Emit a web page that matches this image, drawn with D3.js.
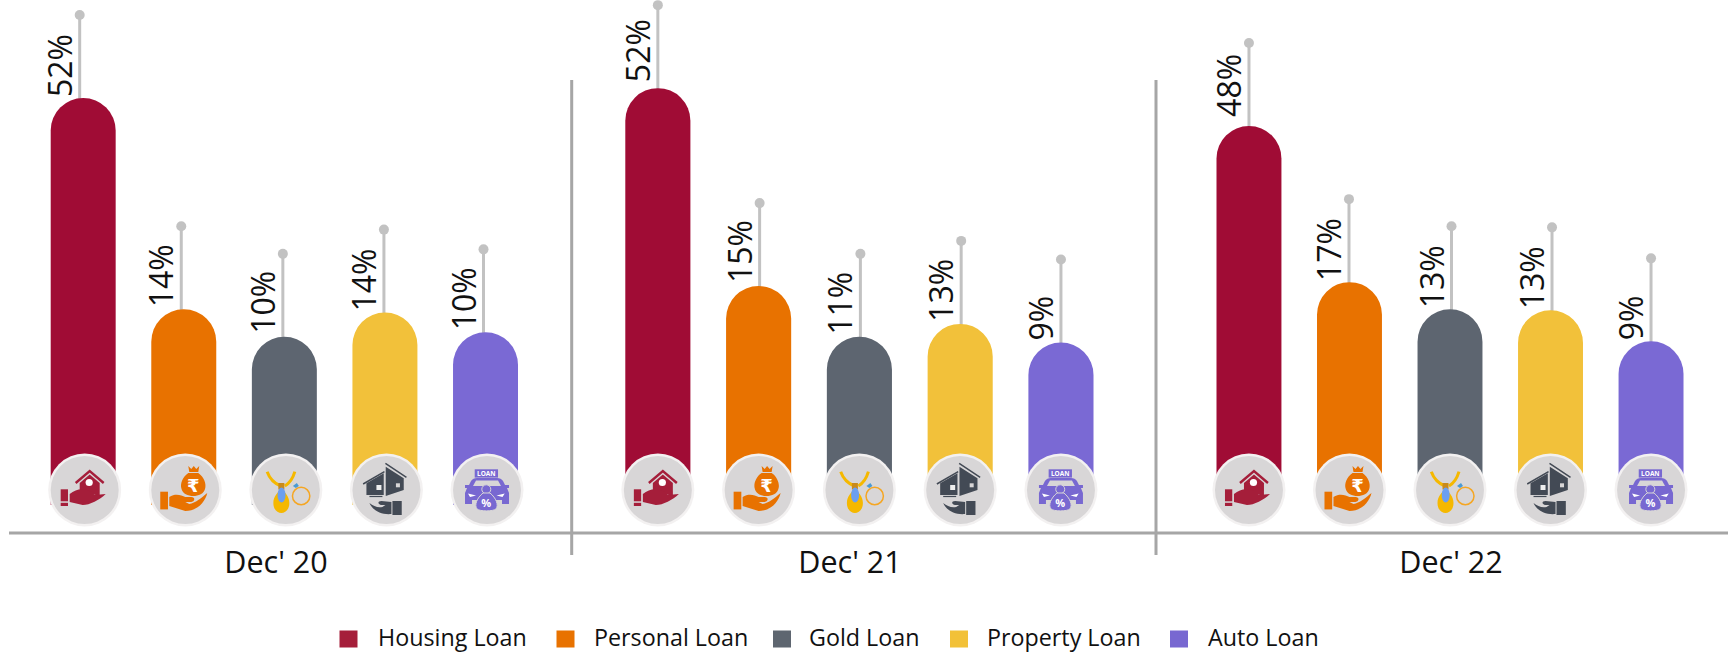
<!DOCTYPE html>
<html>
<head>
<meta charset="utf-8">
<script src="https://cdn.jsdelivr.net/npm/d3@7"></script>
<style>
html, body { margin: 0; padding: 0; background: #fff; }
svg { display: block; }
text { font-family: "Open Sans", sans-serif; fill: #111; }
</style>
</head>
<body>
<svg id="chart" width="1728" height="654"></svg>
<script>
"use strict";

const periods = ["Dec' 20", "Dec' 21", "Dec' 22"];
const categories = ["Housing Loan", "Personal Loan", "Gold Loan", "Property Loan", "Auto Loan"];
const colors = ["#a00c35", "#e87200", "#5d6570", "#f2c13a", "#7a69d4"];
const legendColors = ["#a51e3a", "#e87200", "#5e6670", "#f2c138", "#7868d1"];

// printed labels
const printed = [
    ["52%", "14%", "10%", "14%", "10%"],
    ["52%", "15%", "11%", "13%", "9%"],
    ["48%", "17%", "13%", "13%", "9%"]
];

// drawn bar heights, these do not follow the printed labels exactly in the source
const drawn = [
    [51.95, 14.5, 9.6, 13.9, 10.4],
    [53.7, 18.6, 9.6, 11.9, 8.6],
    [47.0, 19.3, 14.5, 14.3, 8.8]
];

const width = 1728, axisY = 533, barBottom = 505, stemLength = 83;
const groupLeft = [50.7, 625.3, 1216.5];
const groupRight = [518, 1093.5, 1683.5];
const stemShift = [
    [-3.5, -2.5, -1.5, -1, -2],
    [0, 1, 1, 1, 0],
    [0, -0.5, 1.5, 1.5, 0]
];
// gap between a bar top and the start of its label, set by hand in the source
const labelLift = [
    [1, 2, 3, 1, 2],
    [6, 3, 2, 2, 2],
    [9, 1, 1, 1, 1]
];
const circleShift = [1.5, 0, 0];
const dividers = [571.7, 1156];
const periodCenter = [276, 850, 1451];
const legendSwatch = [339.5, 556.5, 773, 950, 1170];
const legendText = [378, 594, 809, 987, 1208];

const svg = d3.select("#chart");

const y = d3.scaleLinear().domain([0, 60]).range([391, 52.6]);

// icons are drawn around 0,0, the middle of the grey badge
const icons = [
    `<path d="M-9,-7 L5,-19 L19,-7" fill="none" stroke="#a51e3a" stroke-width="2.4"/>
     <path d="M-5,-7 L5,-15.5 L15,-7 L15,6 L-5,1 Z" fill="#a51e3a"/>
     <circle cx="4.5" cy="-7.5" r="3.6" fill="#fff"/>
     <rect x="-24" y="-0.7" width="7.3" height="12" fill="#a51e3a"/>
     <rect x="-24" y="12.8" width="7.3" height="3.2" fill="#a51e3a"/>
     <path d="M-15,4 C-8,-2 0,-2 7,2 L10,5 L21,4 C15,10 5,15 -2,15 L-15,12 Z" fill="#a51e3a"/>`,
    `<path d="M3,-24 L6,-21 L8.5,-24 L11,-21 L14,-24 L13,-18 L4,-18 Z" fill="#e87200"/>
     <path d="M3,-17 C-3,-13 -5,-6 -4,-2 C-3,4 3,6 8,6 C13,6 19,4 20,-2 C21,-6 19,-13 13,-17 Z" fill="#e87200"/>
     <text x="8" y="1.5" text-anchor="middle" font-size="18" font-weight="700" style="font-family:'DejaVu Sans';fill:#fff">₹</text>
     <rect x="-25" y="1.7" width="7.7" height="17.7" fill="#e87200"/>
     <path d="M-16,7 C-10,3 -4,5 0,7 L6,7 C10,7 10,11 6,12 L0,12 L4,14 C10,13 16,8 22,3 C20,12 12,21 0,21 L-16,16 Z" fill="#e87200"/>`,
    `<path d="M-18.7,-18.3 Q-15,-8 -5,-4 M9,-18.3 Q6,-8 -1,-4" fill="none" stroke="#f5b800" stroke-width="3"/>
     <path d="M-4.5,-2 C-1,3 3.5,6 3.5,13 C3.5,20 -1,23 -4.5,23 C-8,23 -12.5,20 -12.5,13 C-12.5,6 -8,3 -4.5,-2 Z" fill="#f5b800"/>
     <rect x="-7.5" y="-7" width="6" height="6.5" fill="#c98a1a"/>
     <ellipse cx="-4.3" cy="5" rx="4" ry="7.5" fill="#6b9ff0"/>
     <circle cx="15.3" cy="6" r="8.7" fill="none" stroke="#f5a623" stroke-width="1.5"/>
     <path d="M7,-4 L11,-7 L13,-4 L10,-2 Z" fill="#4a9ad4"/>`,
    `<path d="M-23.3,-6 L-2,-18.3 M-1,-26.7 L20,-12.7" fill="none" stroke="#434a55" stroke-width="1.5"/>
     <path d="M-20,-6.7 L-2.7,-16.7 L-2.7,5 L-20,5 Z M-0.7,-23.3 L17.3,-11.7 L17.3,0 L-0.7,6 Z" fill="#434a55"/>
     <rect x="-10" y="-5" width="5" height="5" fill="#eee"/>
     <rect x="9.5" y="-6.7" width="4" height="4" fill="#d8d6d7"/>
     <path d="M-17,6.5 L-4,6.5" stroke="#434a55" stroke-width="1.2"/>
     <path d="M-17,13 C-14,20 -6,25 5,24 L5,12 L-5,11 C-9,11 -9,14 -5,15 L-1,15 L-4,17 C-9,18 -13,16 -17,13 Z" fill="#434a55"/>
     <rect x="6" y="11" width="9.3" height="14" fill="#434a55"/>`,
    `<rect x="-12.3" y="-20.7" width="23.3" height="8.3" fill="#7868d1"/>
     <text x="-0.7" y="-14.3" text-anchor="middle" font-size="6.5" font-weight="700" style="fill:#fff">LOAN</text>
     <path d="M-16,-9 Q-14,-12 -10,-12 L10,-12 Q14,-12 16,-9 L18,-5 L22,-5 L22,-2 L20,-2 L22,3 L22,14 L15,14 L15,10 L-15,10 L-15,14 L-22,14 L-22,3 L-20,-2 L-22,-2 L-22,-5 L-18,-5 Z" fill="#7868d1"/>
     <path d="M-11,-9.5 L11,-9.5 L14,-4 L-14,-4 Z" fill="#d8d6d7"/>
     <path d="M-19,3.5 L-11,5.5 L-17,7 Z M17.7,3.5 L9.5,5.5 L15.5,7 Z" fill="#fff"/>
     <circle cx="-0.7" cy="-0.7" r="4.5" fill="#7868d1" stroke="#d8d6d7" stroke-width="1"/>
     <path d="M-4,3 L3,3 C9,8 12,15 9,19 C6,21.5 -7,21.5 -10,19 C-13,15 -10,8 -4,3 Z" fill="#7868d1" stroke="#d8d6d7" stroke-width="1"/>
     <text x="-0.7" y="17" text-anchor="middle" font-size="11" font-weight="700" style="fill:#fff">%</text>`
];

const defs = svg.append("defs");
icons.forEach((markup, i) => {
    defs.append("g").attr("id", "icon" + i).html(markup);
});

/**
 * Column with a round top and a flat bottom.
 */
function barPath(x0, x1, top, bottom) {
    const r = (x1 - x0) / 2;
    const p = d3.path();
    p.moveTo(x0, bottom);
    p.lineTo(x0, top + r);
    p.arc(x0 + r, top + r, r, Math.PI, 0);
    p.lineTo(x1, bottom);
    p.closePath();
    return p.toString();
}

periods.forEach((period, g) => {
    const x = d3.scaleBand()
        .domain(categories)
        .range([groupLeft[g], groupRight[g]])
        .paddingInner(0.354)
        .paddingOuter(0);

    const stemX = (c, i) => x(c) + x.bandwidth() / 2 + stemShift[g][i];

    const group = svg.append("g").attr("class", "period");

    const cols = group.selectAll("g.col")
        .data(categories)
        .enter().append("g")
            .attr("class", "col");

    cols.append("line")
        .attr("x1", stemX)
        .attr("x2", stemX)
        .attr("y1", (c, i) => y(drawn[g][i]) + 2)
        .attr("y2", (c, i) => y(drawn[g][i]) - stemLength)
        .attr("stroke", "#c2c2c2")
        .attr("stroke-width", 3);

    cols.append("circle")
        .attr("cx", stemX)
        .attr("cy", (c, i) => y(drawn[g][i]) - stemLength)
        .attr("r", 5)
        .attr("fill", "#c2c2c2");

    cols.append("path")
        .attr("d", (c, i) => barPath(x(c), x(c) + x.bandwidth(), y(drawn[g][i]), barBottom))
        .attr("fill", (c, i) => colors[i]);

    cols.append("text")
        .attr("transform", (c, i) => `translate(${stemX(c, i) - 8},${y(drawn[g][i]) - labelLift[g][i]}) rotate(-90)`)
        .attr("font-size", 32)
        .text((c, i) => printed[g][i]);

    const badge = cols.append("g")
        .attr("transform", c => `translate(${x(c) + x.bandwidth() / 2 + circleShift[g]},490)`);
    badge.append("circle").attr("r", 36.5).attr("fill", "#f3f1f1");
    badge.append("circle").attr("r", 34).attr("fill", "#d8d6d7");
    badge.append("use").attr("href", (c, i) => "#icon" + i);

    group.append("text")
        .attr("x", periodCenter[g])
        .attr("y", 573)
        .attr("text-anchor", "middle")
        .attr("font-size", 30.5)
        .text(period);
});

svg.append("line")
    .attr("x1", 9).attr("x2", width)
    .attr("y1", axisY).attr("y2", axisY)
    .attr("stroke", "#a6a6a6").attr("stroke-width", 3);

svg.selectAll("line.divider")
    .data(dividers)
    .enter().append("line")
        .attr("class", "divider")
        .attr("x1", d => d).attr("x2", d => d)
        .attr("y1", 80).attr("y2", 555)
        .attr("stroke", "#a6a6a6").attr("stroke-width", 3);

const legend = svg.selectAll("g.legend")
    .data(categories)
    .enter().append("g")
        .attr("class", "legend");

legend.append("rect")
    .attr("x", (c, i) => legendSwatch[i])
    .attr("y", 630.5)
    .attr("width", 18)
    .attr("height", 17)
    .attr("fill", (c, i) => legendColors[i]);

// legend type is a little narrow in the source
legend.append("text")
    .attr("x", (c, i) => legendText[i])
    .attr("y", 646)
    .attr("font-size", 24)
    .text(c => c)
    .attr("textLength", function() { return this.getComputedTextLength() * 0.97; })
    .attr("lengthAdjust", "spacingAndGlyphs");
</script>
</body>
</html>
